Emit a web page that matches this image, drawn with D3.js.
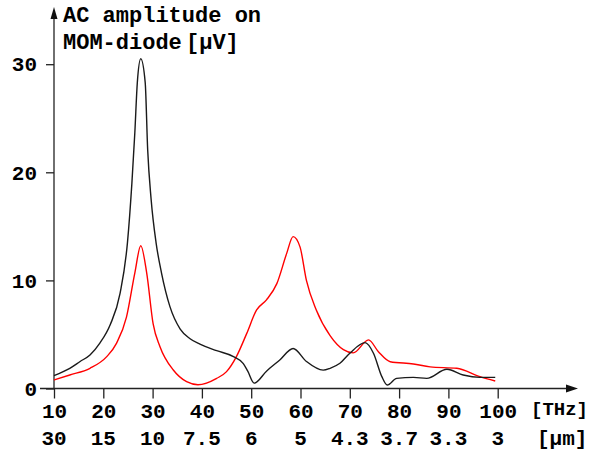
<!DOCTYPE html>
<html>
<head>
    <script src="https://cdn.jsdelivr.net/npm/d3@7"></script>
</head>

<style>
    body { margin: 0; background: white; }
    text {
        font-family: "Liberation Mono", "Courier New", monospace;
        font-weight: bold;
        fill: black;
    }
    .axis text { font-size: 21px; }
    .axis line, .axis path { stroke: #222; stroke-width: 1.3; }
</style>

<body>
<div id="chart"></div>

<script>

    // frequency ticks (THz) and matching wavelengths (um)
    var thzTicks = [10, 20, 30, 40, 50, 60, 70, 80, 90, 100];
    var umLabels = ["30", "15", "10", "7.5", "6", "5", "4.3", "3.7", "3.3", "3"];
    var yTicks = [0, 10, 20, 30];

    // black curve: [THz, uV]
    var blackCurve = [
        [10, 1.2], [13.2, 1.87], [15.3, 2.5], [17.3, 3.1], [19.3, 4.2], [21.4, 5.9],
        [23.4, 8.8], [24.9, 13.5], [25.8, 19.0], [26.4, 23.7], [26.9, 28.3], [27.6, 30.5],
        [28.5, 28.3], [29.0, 22.1], [29.7, 17.5], [30.7, 13.5], [31.8, 10.7], [33.5, 7.6],
        [35.6, 5.5], [37.6, 4.6], [39.6, 4.1], [43, 3.5], [46.4, 2.95], [48.4, 2.3],
        [49.3, 1.6], [50.6, 0.5], [53.1, 1.6], [55.8, 2.64], [58.5, 3.7], [61.2, 2.5],
        [64.6, 1.7], [66, 1.87], [68, 2.33], [70, 3.26], [73.1, 4.24], [74.8, 3.26],
        [76.5, 1.1], [77.6, 0.32], [79.5, 0.94], [82.9, 1.03], [85.6, 0.94], [89.7, 1.78],
        [93, 1.25], [96.4, 1.03], [99.5, 1.03]
    ];

    // red curve: [THz, uV]
    var redCurve = [
        [10, 0.79], [13.2, 1.25], [17.3, 1.87], [20.7, 2.95], [22.7, 4.2], [24.7, 6.6],
        [26.4, 10.7], [27.6, 13.2], [28.8, 10.7], [30.1, 6.0], [31.5, 3.87], [34.2, 1.71],
        [36.9, 0.63], [39.2, 0.35], [43, 0.94], [45, 1.56], [47, 2.95], [49.1, 5.1],
        [51.1, 7.27], [53.1, 8.2], [55.2, 9.7], [57.2, 12.5], [58.5, 14.05], [59.9, 13.1],
        [61.2, 10.0], [63.2, 7.27], [66, 4.9], [68.7, 3.6], [70.7, 3.3], [73.8, 4.5],
        [75.8, 3.4], [78.2, 2.48], [82.9, 2.27], [86.3, 2.0], [91.7, 1.87], [96.4, 1.1],
        [99.5, 0.69]
    ];

    var width = 591, height = 451;

    var xScale = d3.scaleLinear()
        .domain([10, 100])
        .range([54, 497.7]);

    var yScale = d3.scaleLinear()
        .domain([0, 30])
        .range([388.5, 64.2]);

    var svg = d3.select('#chart').append('svg')
        .attr('width', width)
        .attr('height', height);

    // x axis
    var xAxis = svg.append('g')
        .attr('class', 'axis')
        .attr('transform', 'translate(0,' + yScale(0) + ')')
        .call(d3.axisBottom(xScale)
            .tickValues(thzTicks)
            .tickSize(10)
            .tickSizeOuter(0)
            .tickPadding(5)
            .tickFormat(function(d) { return d; }));
    xAxis.select('.domain').remove();

    svg.append('line')
        .attr('x1', 40).attr('x2', 570)
        .attr('y1', yScale(0)).attr('y2', yScale(0))
        .attr('stroke', '#222').attr('stroke-width', 1.3);
    svg.append('path')
        .attr('d', 'M566,' + (yScale(0) - 4) + 'L578,' + yScale(0) + 'L566,' + (yScale(0) + 4) + 'Z')
        .attr('fill', '#111');

    // wavelength row
    svg.append('g').selectAll('text')
        .data(thzTicks)
        .enter()
        .append('text')
        .attr('x', function(d) { return xScale(d); })
        .attr('y', 445)
        .attr('text-anchor', 'middle')
        .style('font-size', '21px')
        .text(function(d, i) { return umLabels[i]; });

    // unit labels
    svg.append('text').attr('x', 531).attr('y', 415).style('font-size', '19px').text('[THz]');
    svg.append('text').attr('x', 537).attr('y', 445).style('font-size', '21px').text('[\u03bcm]');

    // y axis
    var yAxis = svg.append('g')
        .attr('class', 'axis')
        .attr('transform', 'translate(' + xScale(10) + ',0)')
        .call(d3.axisLeft(yScale)
            .tickValues(yTicks)
            .tickSize(8)
            .tickSizeOuter(0)
            .tickPadding(9));
    yAxis.select('.domain').remove();

    svg.append('line')
        .attr('x1', xScale(10)).attr('x2', xScale(10))
        .attr('y1', yScale(0)).attr('y2', 14)
        .attr('stroke', '#222').attr('stroke-width', 1.3);
    svg.append('path')
        .attr('d', 'M' + (xScale(10) - 3.5) + ',19L' + xScale(10) + ',7L' + (xScale(10) + 3.5) + ',19Z')
        .attr('fill', '#111');

    // axis title
    var title = svg.append('text').style('font-size', '22px');
    title.append('tspan').attr('x', 63).attr('y', 22).text('AC amplitude on');
    title.append('tspan').attr('x', 63).attr('y', 49).text('MOM-diode');
    title.append('tspan').attr('x', 186).attr('y', 49).text('[\u03bcV]');

    // curves
    var line = d3.line()
        .x(function(d) { return xScale(d[0]); })
        .y(function(d) { return yScale(d[1]); })
        .curve(d3.curveMonotoneX);

    svg.append('path')
        .datum(redCurve)
        .attr('fill', 'none')
        .attr('stroke', '#ff0000')
        .attr('stroke-width', 1.4)
        .attr('d', line);

    svg.append('path')
        .datum(blackCurve)
        .attr('fill', 'none')
        .attr('stroke', '#1a1a1a')
        .attr('stroke-width', 1.4)
        .attr('d', line);

</script>
</body>
</html>
